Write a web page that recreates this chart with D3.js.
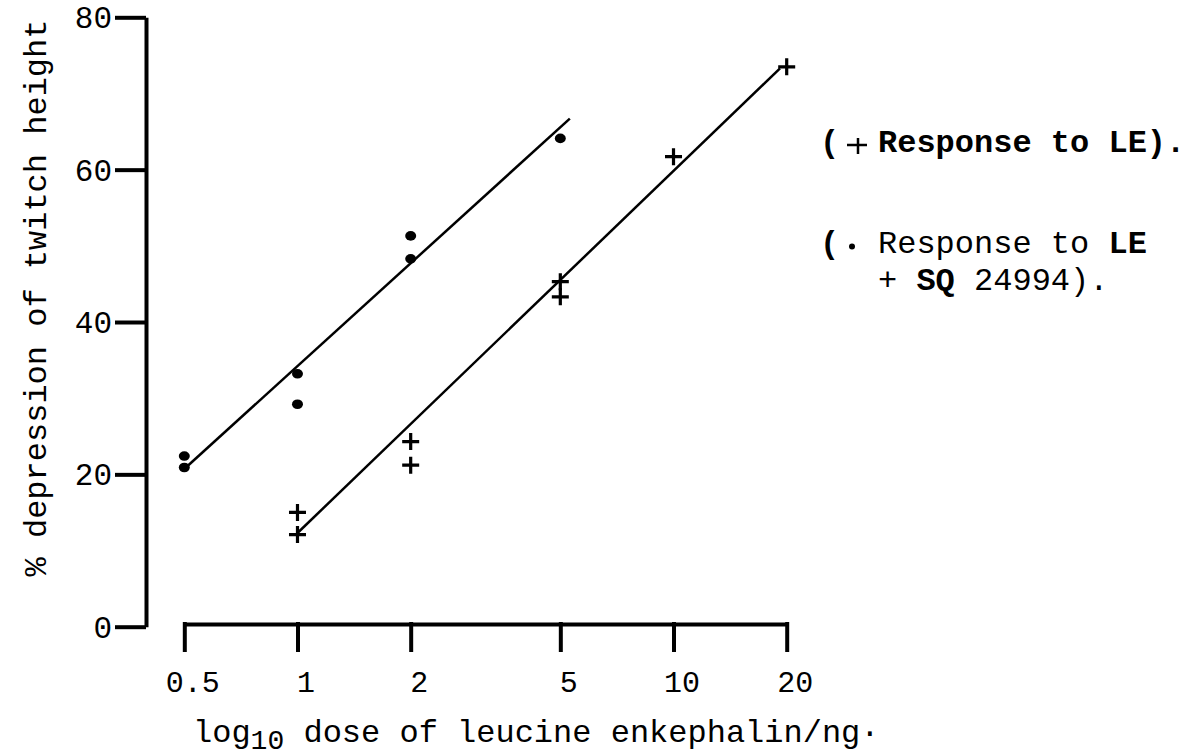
<!DOCTYPE html>
<html>
<head>
<meta charset="utf-8">
<script src="https://cdn.jsdelivr.net/npm/d3@7"></script>
<style>
  html, body { margin: 0; padding: 0; background: #fff; }
  svg { display: block; }
  text { font-family: "Liberation Mono", "DejaVu Sans Mono", monospace; fill: #000; }
</style>
</head>
<body>
<svg id="chart" width="1193" height="756"></svg>
<script>
// Dose axis ticks (ng) and response axis ticks (%)
const doseTicks = [0.5, 1, 2, 5, 10, 20];
const respTicks = [0, 20, 40, 60, 80];

// Response to leucine enkephalin alone (+)
const leDose = [1, 1, 2, 2, 5, 5, 10, 20];
const leResp = [15.0, 12.1, 24.3, 21.2, 45.3, 43.3, 61.7, 73.5];

// Response to leucine enkephalin + SQ 24994 (•)
const sqDose = [0.5, 0.5, 1, 1, 2, 2, 5];
const sqResp = [22.4, 20.9, 33.2, 29.2, 51.3, 48.3, 64.1];

// Fitted regression lines (end points)
const leFitDose = [1, 19.2];
const leFitResp = [12.3, 73.3];
const sqFitDose = [0.51, 5.3];
const sqFitResp = [21.1, 66.7];

const svg = d3.select("#chart");

const x = d3.scaleLog().domain([0.5, 20]).range([184.3, 786.7]);
const y = d3.scaleLinear().domain([0, 80]).range([626.7, 17.3]);

const axisStroke = 4;

// x axis
const xAxisG = svg.append("g")
  .attr("transform", "translate(0,624)")
  .call(d3.axisBottom(x).tickValues(doseTicks).tickSize(28).tickSizeOuter(0)
    .tickFormat(d => String(d)));
xAxisG.select(".domain").attr("stroke", "#000").attr("stroke-width", axisStroke);
xAxisG.selectAll(".tick line").attr("stroke", "#000").attr("stroke-width", axisStroke)
  .attr("y1", -2);
xAxisG.selectAll(".tick text")
  .attr("y", 67.7).attr("dy", null).attr("dx", 8)
  .style("font-family", "'Liberation Mono', monospace")
  .style("font-size", "30px");

// y axis
const yAxisG = svg.append("g")
  .attr("transform", "translate(146,0)")
  .call(d3.axisLeft(y).tickValues(respTicks).tickSize(31).tickSizeOuter(0)
    .tickFormat(d => String(d)));
yAxisG.select(".domain").attr("stroke", "#000").attr("stroke-width", axisStroke);
yAxisG.selectAll(".tick line").attr("stroke", "#000").attr("stroke-width", axisStroke);
yAxisG.selectAll(".tick text")
  .attr("x", -34).attr("dy", "0.34em")
  .style("font-family", "'Liberation Mono', monospace")
  .style("font-size", "31px");

// axis titles
svg.append("text")
  .attr("transform", "translate(46,298) rotate(-90)")
  .attr("text-anchor", "middle")
  .style("font-size", "32px")
  .text("% depression of twitch height");

const xt = svg.append("text")
  .attr("x", 193).attr("y", 742)
  .style("font-size", "32px");
xt.append("tspan").text("log");
xt.append("tspan").attr("dy", 7).style("font-size", "28px").text("10");
xt.append("tspan").attr("dy", -7).text(" dose of leucine enkephalin/ng·");

// fitted lines
const line = d3.line().x(d => x(d[0])).y(d => y(d[1]));
svg.append("path")
  .datum(sqFitDose.map((d, i) => [d, sqFitResp[i]]))
  .attr("d", line).attr("fill", "none").attr("stroke", "#000").attr("stroke-width", 2.5);
svg.append("path")
  .datum(leFitDose.map((d, i) => [d, leFitResp[i]]))
  .attr("d", line).attr("fill", "none").attr("stroke", "#000").attr("stroke-width", 2.5);

// markers
const crossPath = "M-8.5,0H8.5M0,-8.5V8.5";
svg.append("g").selectAll("path")
  .data(leDose.map((d, i) => [d, leResp[i]]))
  .join("path")
  .attr("transform", d => `translate(${x(d[0])},${y(d[1])})`)
  .attr("d", crossPath)
  .attr("stroke", "#000").attr("stroke-width", 3.2).attr("fill", "none");

svg.append("g").selectAll("ellipse")
  .data(sqDose.map((d, i) => [d, sqResp[i]]))
  .join("ellipse")
  .attr("cx", d => x(d[0])).attr("cy", d => y(d[1]))
  .attr("rx", 5.5).attr("ry", 4.8)
  .attr("fill", "#000");

// legend
const leg = svg.append("g").style("font-size", "32px");
leg.append("text").attr("x", 820).attr("y", 152).style("font-weight", "bold").text("(");
leg.append("path").attr("transform", "translate(858,145)")
  .attr("d", "M-11,0H9M0,-7V9").attr("stroke", "#000").attr("stroke-width", 2.5);
leg.append("text").attr("x", 878).attr("y", 152).style("font-weight", "bold")
  .text("Response to LE).");

leg.append("text").attr("x", 820).attr("y", 253).style("font-weight", "bold").text("(");
leg.append("circle").attr("cx", 852).attr("cy", 246.5).attr("r", 3).attr("fill", "#000");
const l2 = leg.append("text").attr("x", 878).attr("y", 253);
l2.append("tspan").text("Response to ");
l2.append("tspan").style("font-weight", "bold").text("LE");
const l3 = leg.append("text").attr("x", 878).attr("y", 290);
l3.append("tspan").text("+ ");
l3.append("tspan").style("font-weight", "bold").text("SQ");
l3.append("tspan").text(" 24994).");
</script>
</body>
</html>
